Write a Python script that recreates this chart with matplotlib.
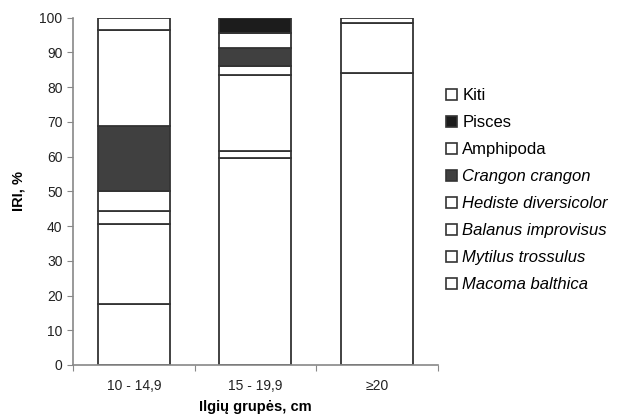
import matplotlib
matplotlib.use("Agg")
import matplotlib.pyplot as plt
import numpy as np

plt.rcParams['font.family'] = ['Liberation Sans', 'DejaVu Sans']

groups = ["10 - 14,9", "15 - 19,9", "≥20"]
species = ["Macoma balthica", "Mytilus trossulus", "Balanus improvisus",
           "Hediste diversicolor", "Crangon crangon", "Amphipoda", "Pisces", "Kiti"]
italic = [True, True, True, True, True, False, False, False]
colors = ["white", "white", "white", "white", "#404040", "white", "#1c1c1c", "white"]

macoma = [17.6, 59.5, 84.2]
mytilus = [22.9, 2.2, 14.4]
balanus = [3.7, 21.8, 0]
hediste = [6.0, 2.6, 0]
crangon = [18.5, 5.3, 0]
amphipoda = [27.8, 4.1, 0]
pisces = [0, 4.5, 0]
kiti = [3.5, 0, 1.4]
values = [macoma, mytilus, balanus, hediste, crangon, amphipoda, pisces, kiti]

fig = plt.figure(figsize=(6.32, 4.16), dpi=100)
ax = fig.add_axes([0.1155, 0.1226, 0.577, 0.835])

x = np.arange(len(groups))
bottom = np.zeros(len(groups))
handles = []
for name, vals, col in zip(species, values, colors):
    b = ax.bar(x, vals, 0.59, bottom=bottom, color=col, edgecolor="#333333",
               linewidth=1.3, label=name)
    handles.append(b)
    bottom += np.array(vals)

ax.set_xlim(-0.5, 2.5)
ax.set_ylim(0, 100)
ax.set_yticks(range(0, 101, 10))
ax.set_xticks([-0.5, 0.5, 1.5, 2.5])
ax.set_xticklabels([])
ax.set_xticks(x, minor=True)
ax.set_xticklabels(groups, minor=True)
ax.tick_params(axis="x", which="minor", length=0, pad=10, labelsize=10, colors="#222222")
ax.tick_params(axis="x", which="major", length=4, direction="out", color="#888888")
ax.tick_params(axis="y", length=4, direction="out", color="#888888", labelsize=10,
               labelcolor="#222222")
for s in ["top", "right"]:
    ax.spines[s].set_visible(False)
for s in ["left", "bottom"]:
    ax.spines[s].set_color("#888888")
    ax.spines[s].set_linewidth(1.2)

ax.set_ylabel("IRI, %", fontweight="bold", fontsize=10.5, labelpad=10)
ax.set_xlabel("Ilgių grupės, cm", fontweight="bold", fontsize=10.5, labelpad=5)

leg = ax.legend(handles[::-1], species[::-1], loc="upper left",
                bbox_to_anchor=(0.99, 0.83), frameon=False, fontsize=12,
                handlelength=0.7, handleheight=0.7, handletextpad=0.3,
                labelspacing=0.72, borderaxespad=0.3)
for t, it in zip(leg.get_texts(), italic[::-1]):
    if it:
        t.set_style("italic")
for p in leg.get_patches():
    p.set_linewidth(1.2)

plt.savefig("out.png", dpi=100)
